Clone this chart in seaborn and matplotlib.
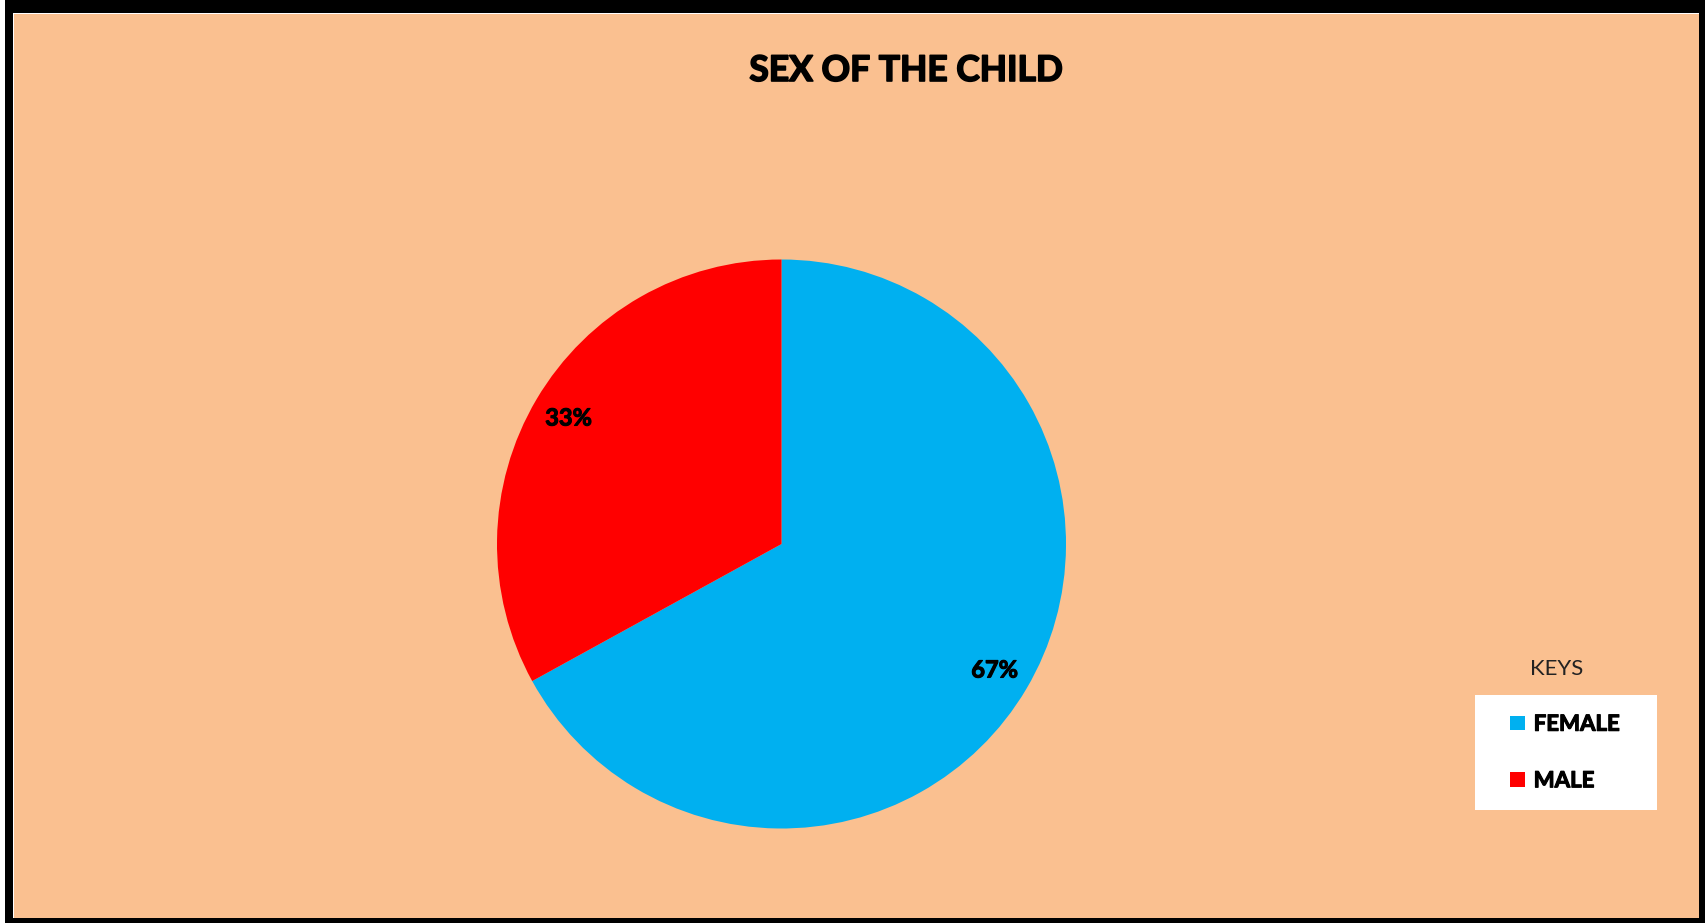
import matplotlib
matplotlib.use("Agg")
import matplotlib.pyplot as plt
import matplotlib.patheffects as pe
from matplotlib.patches import Rectangle, Patch
import seaborn as sns

# Data
categories = ["FEMALE", "MALE"]
shares = [67, 33]
colors = ["#00B0F0", "#FF0000"]
title = "SEX OF THE CHILD"
legend_title = "KEYS"

sns.set_theme(style="white")
plt.rcParams["font.family"] = ["Lato", "DejaVu Sans"]

W, H = 1706, 923
fig = plt.figure(figsize=(W / 100, H / 100), dpi=100, facecolor="black")

# peach panel inside the black frame
fig.patches.append(Rectangle((0, 0), 5 / W, 1, transform=fig.transFigure,
                             facecolor="white", edgecolor="none", zorder=-3))
fig.patches.append(Rectangle((13 / W, 5 / H), (1699 - 13) / W, (918 - 13) / H,
                             transform=fig.transFigure, facecolor="white",
                             edgecolor="none", zorder=-2))
fig.patches.append(Rectangle((14 / W, 5 / H), (1699 - 14) / W, (917 - 13) / H,
                             transform=fig.transFigure, facecolor="#FAC090",
                             edgecolor="none", zorder=-1))

# pie axes: center (781.5, 544) px, radius 284.5 px
r_px = 284.5
side = 2 * 1.25 * r_px
cx, cy = 781.5, H - 544
ax = fig.add_axes([(cx - side / 2) / W, (cy - side / 2) / H, side / W, side / H])
ax.set_facecolor("none")
ax.set_zorder(1)

wedges, texts, autotexts = ax.pie(
    shares,
    colors=colors,
    startangle=90,
    counterclock=False,
    autopct="%d%%",
    pctdistance=0.87,
    wedgeprops=dict(linewidth=0),
    textprops=dict(fontsize=17, fontweight="bold", color="black"),
)
for t in autotexts:
    t.set_path_effects([pe.withStroke(linewidth=0.8, foreground="black")])
ax.set_xlim(-1.25, 1.25)
ax.set_ylim(-1.25, 1.25)
ax.set_aspect("equal")

# title
fig.text(906 / W, 1 - 71 / H, title, ha="center", va="center",
         fontsize=25.5, fontweight="bold", color="black",
         path_effects=[pe.withStroke(linewidth=1.2, foreground="black")])

# legend
fig.patches.append(Rectangle((1475 / W, (H - 810) / H), 182 / W, 115 / H,
                             transform=fig.transFigure, facecolor="white",
                             edgecolor="none", zorder=1))
fig.text(1557 / W, 1 - 669 / H, legend_title, ha="center", va="center",
         fontsize=16, color="#222222")
handles = [Patch(facecolor=c, edgecolor="none") for c in colors]
leg = fig.legend(handles, categories, loc="center",
                 bbox_to_anchor=(1565 / W, (H - 752.5) / H),
                 frameon=False, labelspacing=1.6, labelcolor="black",
                 handlelength=0.65, handleheight=0.65, handletextpad=0.4,
                 prop=dict(weight="bold", size=16))
for t in leg.get_texts():
    t.set_path_effects([pe.withStroke(linewidth=0.8, foreground="black")])
leg.set_zorder(2)

fig.savefig("out.png", dpi=100, facecolor=fig.get_facecolor())
